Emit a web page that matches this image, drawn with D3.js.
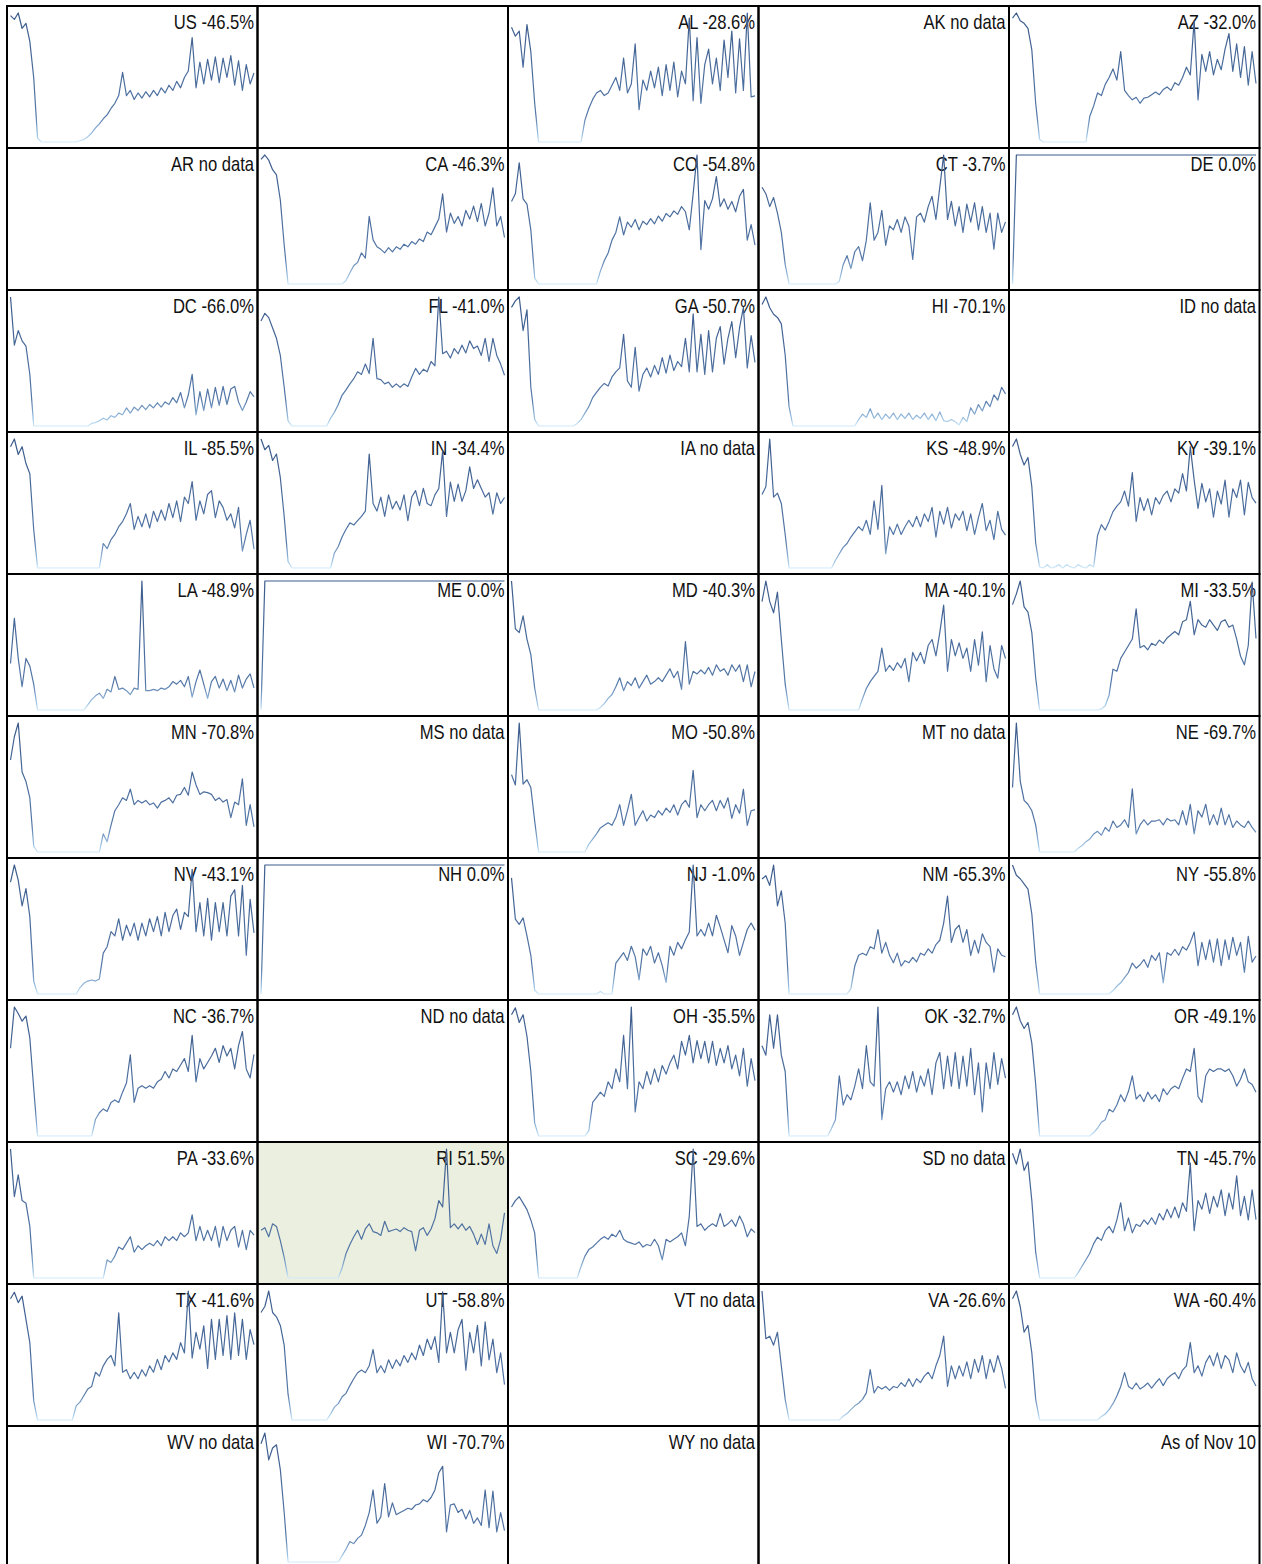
<!DOCTYPE html>
<html lang="en">
<head>
    <meta charset="UTF-8">
    <title>Seated diners vs. last year, by state</title>
    <script src="https://cdn.jsdelivr.net/npm/d3@7"></script>
    <style>
        body { margin: 0; background: #fff; }
        svg { display: block; }
        .label {
            font-family: "Liberation Sans", Arial, sans-serif;
            font-size: 20px;
            fill: #111;
        }
    </style>
</head>
<body>
    <div id="chart"></div>
    <script>
    // grid order, 5 per row; "" is an empty cell
    const cells = [
        "US", "", "AL", "AK", "AZ",
        "AR", "CA", "CO", "CT", "DE",
        "DC", "FL", "GA", "HI", "ID",
        "IL", "IN", "IA", "KS", "KY",
        "LA", "ME", "MD", "MA", "MI",
        "MN", "MS", "MO", "MT", "NE",
        "NV", "NH", "NJ", "NM", "NY",
        "NC", "ND", "OH", "OK", "OR",
        "PA", "RI", "SC", "SD", "TN",
        "TX", "UT", "VT", "VA", "WA",
        "WV", "WI", "WY", "", "As of Nov 10"
    ];
    const noData = ["AK", "AR", "ID", "IA", "MS", "MT", "ND", "SD", "VT", "WV", "WY"];

    // % change vs same day last year, one reading every ~4 days, mid Feb -> Nov 10
    const US = [-2,-5,0,-12,-8,-22,-50,-97,
        -100,-100,-100,-100,-100,-100,-100,-100,-100,-100,
        -99,-98,-96,-93,-89,-86,-82,-79,-74,-70,
        -64,-46,-64,-60,-67,-62,-66,-61,-65,-60,
        -64,-58,-62,-56,-60,-53,-58,-50,-45,-19,
        -58,-38,-55,-36,-52,-34,-54,-35,-50,-33,
        -56,-37,-60,-40,-55,-46.5];
    const AL = [78,64,72,16,82,40,-40,-100,
        -100,-100,-100,-100,-100,-100,-100,-100,-100,-100,-100,
        -66,-48,-34,-24,-20,-28,-24,-12,0,-20,
        30,-24,-10,52,-50,-4,-20,10,-16,16,
        -28,20,-20,24,-30,10,-10,92,-36,62,
        -40,20,44,-10,30,-20,58,0,72,-24,
        60,-20,100,-30,-28.6];
    const AZ = [44,50,41,38,32,7,-55,-97,
        -100,-100,-100,-100,-100,-100,-100,-100,-100,-100,-100,-100,
        -70,-58,-43,-46,-33,-25,-15,-28,5,-40,
        -46,-51,-48,-55,-49,-48,-45,-42,-45,-39,
        -36,-40,-31,-34,-25,-13,-22,41,-51,2,
        -18,5,-22,-4,-16,8,26,-18,14,-25,
        11,-34,5,-32];
    const CA = [44,49,43,32,26,-3,-55,-100,
        -100,-100,-100,-100,-100,-100,-100,-100,-100,-100,-100,-100,-100,-100,
        -96,-87,-79,-75,-64,-70,-22,-49,-57,-60,
        -64,-58,-63,-57,-60,-54,-57,-51,-54,-48,
        -51,-40,-43,-34,-25,4,-40,-18,-30,-22,
        -33,-15,-25,-10,-28,-7,-33,-18,11,-33,
        -22,-46.3];
    const CO = [-4,5,41,-1,-7,-37,-93,
        -100,-100,-100,-100,-100,-100,-100,-100,-100,-100,-100,-100,-100,-100,-100,-100,
        -85,-73,-64,-49,-40,-22,-43,-28,-34,-25,
        -37,-27,-31,-24,-30,-21,-27,-18,-22,-15,
        -19,-10,-16,-37,5,50,-60,-3,-13,-1,
        25,-10,-1,-13,-4,-16,2,10,-49,-31,
        -54.8];
    const CT = [50,40,20,34,10,-20,-70,
        -100,-100,-100,-100,-100,-100,-100,-100,-100,-100,-100,-100,-100,
        -96,-70,-56,-76,-50,-42,-64,-32,26,-32,
        -20,14,-40,-10,-16,0,-20,4,-10,-62,
        4,10,-4,20,36,0,50,100,0,28,
        -10,20,-20,24,-4,26,-16,20,-20,10,
        -46,10,-20,-3.7];
    const DE = [-100,
        0,0,0,0,0,0,0,0,0, 0,0,0,0,0,0,0,0,0, 0,0,0,0,0,0,0,0,0,
        0,0,0,0,0,0,0,0,0, 0,0,0,0,0,0,0,0,0, 0,0,0,0,0,0,0,0,0,
        0,0,0,0,0,0,0,0,0];
    const DC = [50,-6,11,-1,-7,-40,
        -100,-100,-100,-100,-100,-100,-100,-100,-100,-100,-100,-100,-100,-100,-100,
        -97,-96,-94,-91,-93,-88,-90,-85,-87,-79,
        -85,-78,-82,-76,-81,-75,-79,-73,-78,-72,
        -75,-67,-73,-61,-79,-64,-40,-87,-60,-82,
        -57,-79,-55,-76,-54,-75,-57,-54,-72,-82,
        -72,-60,-66];
    const FL = [22,31,26,14,2,-18,-55,-94,
        -100,-100,-100,-100,-100,-100,-100,-100,-100,-100,
        -91,-84,-75,-64,-58,-51,-45,-37,-40,-28,
        -39,2,-45,-46,-51,-49,-55,-51,-55,-51,
        -54,-43,-33,-40,-34,-37,-25,-30,50,-16,
        -13,-21,-10,-16,-6,-15,-1,-10,-7,-18,
        2,-25,2,-18,-28,-41];
    const GA = [-8,-3,0,-26,-10,-70,-95,
        -100,-100,-100,-100,-100,-100,-100,-100,-100,-100,
        -98,-95,-90,-85,-78,-74,-70,-67,-69,-62,
        -58,-55,-29,-65,-70,-39,-73,-60,-55,-62,
        -53,-60,-47,-59,-45,-57,-50,-54,-32,-58,
        -13,-58,-29,-60,-26,-58,-32,-23,-52,-32,
        -19,-47,-24,-8,-55,-30,-50.7];
    const HI = [13,20,10,4,1,-5,-34,-82,
        -100,-100,-100,-100,-100,-100,-100,-100,-100,-100,-100,-100,-100,-100,-100,-100,-100,
        -94,-89,-92,-84,-93,-88,-94,-89,-93,-88,
        -94,-89,-93,-88,-94,-90,-93,-88,-94,-89,
        -95,-87,-95,-96,-94,-96,-99,-92,-96,-83,
        -89,-80,-86,-77,-82,-71,-76,-64,-70.1];
    const IL = [-6,0,-12,-6,-19,-27,-70,
        -100,-100,-100,-100,-100,-100,-100,-100,-100,-100,-100,-100,-100,-100,-100,-100,-100,
        -81,-85,-78,-74,-68,-64,-58,-50,-70,-60,
        -68,-58,-69,-56,-64,-55,-63,-50,-61,-48,
        -64,-45,-50,-33,-63,-48,-58,-43,-40,-61,
        -48,-53,-63,-58,-69,-53,-87,-74,-63,-85.5];
    const IN = [20,10,14,0,6,-16,-52,-94,
        -100,-100,-100,-100,-100,-100,-100,-100,-100,-100,-100,
        -86,-80,-71,-64,-58,-60,-56,-52,-47,6,
        -40,-47,-34,-52,-32,-45,-38,-46,-32,-56,
        -34,-28,-42,-26,-40,-42,-32,-26,9,-52,
        -20,-38,-22,-38,-28,-6,-26,-18,-26,-34,
        -30,-50,-30,-40,-34.4];
    const KS = [14,26,100,10,16,0,-48,-100,
        -100,-100,-100,-100,-100,-100,-100,-100,-100,-100,-100,
        -88,-78,-68,-62,-52,-44,-36,-42,-26,-48,
        4,-40,28,-78,-36,-48,-32,-48,-36,-26,
        -36,-20,-36,-16,-28,-6,-52,-12,-32,-6,
        -38,-16,-26,-12,-42,-16,-48,-22,0,-42,
        -26,-56,-12,-40,-48.9];
    const KY = [13,20,6,-4,3,-24,-76,
        -98,-99,-96,-99,-98,-96,-99,-96,-98,-99,-96,-98,-99,-96,-98,
        -69,-59,-64,-56,-47,-42,-38,-28,-42,-11,
        -56,-34,-46,-35,-50,-34,-40,-32,-28,-38,
        -26,-30,-12,-28,13,-18,-44,-21,-38,-26,
        -52,-28,-40,-18,-52,-26,-34,-18,-50,-20,
        -34,-39.1];
    const LA = [8,113,20,-46,20,2,-40,-100,
        -100,-100,-100,-100,-100,-100,-100,-100,-100,-100,-100,-100,
        -88,-76,-67,-61,-73,-52,-58,-22,-52,-49,
        -55,-64,-49,-52,200,-55,-55,-52,-55,-49,
        -52,-46,-34,-40,-31,-46,-22,-70,-34,-7,
        -40,-73,-34,-22,-49,-28,-55,-31,-58,-19,
        -49,-28,-16,-48.9];
    const ME = [-100,
        0,0,0,0,0,0,0,0,0, 0,0,0,0,0,0,0,0,0, 0,0,0,0,0,0,0,0,0,
        0,0,0,0,0,0,0,0,0, 0,0,0,0,0,0,0,0,0, 0,0,0,0,0,0,0,0,0,
        0,0,0,0,0,0,0,0,0];
    const MD = [100,26,20,46,10,-14,-66,-100,
        -100,-100,-100,-100,-100,-100,-100,-100,-100,-100,-100,-100,-100,-100,-100,
        -96,-90,-82,-76,-64,-50,-70,-56,-62,-50,
        -66,-56,-46,-60,-56,-50,-56,-46,-36,-50,
        -40,-68,6,-60,-40,-44,-38,-44,-34,-46,
        -30,-40,-36,-46,-30,-40,-30,-56,-30,-64,
        -40.3];
    const MA = [26,50,26,13,37,-18,-70,-100,
        -100,-100,-100,-100,-100,-100,-100,-100,-100,-100,-100,-100,-100,-100,-100,-100,-100,-100,
        -87,-75,-67,-61,-55,-28,-55,-48,-54,-45,
        -51,-40,-67,-33,-43,-33,-46,-25,-18,-37,
        -10,22,-55,-18,-37,-22,-40,-28,-55,-18,
        -48,-9,-67,-25,-52,-63,-25,-40.1];
    const MI = [-2,8,20,-4,-9,-28,-70,-100,
        -100,-100,-100,-100,-100,-100,-100,-100,-100,-100,-100,-100,-100,-100,-100,
        -99,-96,-86,-62,-64,-52,-46,-40,-34,-6,
        -42,-40,-44,-38,-40,-35,-38,-33,-30,-27,
        -30,-18,-16,1,-30,-16,-21,-23,-16,-21,
        -26,-18,-16,-23,-21,-34,-50,-58,-40,19,
        -33.5];
    const MN = [7,34,50,-7,-18,-37,-93,
        -100,-100,-100,-100,-100,-100,-100,-100,-100,-100,-100,-100,-100,-100,-100,-100,-100,
        -79,-88,-69,-52,-45,-37,-40,-27,-45,-40,
        -43,-40,-45,-43,-49,-42,-40,-37,-43,-34,
        -33,-25,-34,-7,-22,-33,-30,-31,-33,-40,
        -37,-42,-39,-60,-42,-45,-15,-69,-45,-70.8];
    const MO = [-10,-22,50,-21,-16,-25,-64,-100,
        -100,-100,-100,-100,-100,-100,-100,-100,-100,-100,-100,-100,
        -91,-85,-79,-72,-69,-66,-69,-60,-45,-69,
        -52,-33,-69,-60,-52,-64,-57,-60,-52,-57,
        -49,-54,-45,-57,-45,-40,-48,-5,-60,-45,
        -52,-45,-40,-52,-40,-49,-37,-61,-45,-55,
        -27,-69,-52,-50.8];
    const NE = [0,100,10,-20,-26,-36,-58,-100,
        -100,-100,-100,-100,-100,-100,-100,-100,-100,
        -94,-90,-84,-80,-72,-68,-74,-62,-68,-52,
        -62,-58,-50,-62,-2,-72,-58,-50,-58,-52,
        -52,-50,-58,-48,-52,-50,-58,-36,-58,-26,
        -72,-36,-46,-26,-58,-42,-58,-32,-58,-42,
        -62,-52,-58,-62,-52,-62,-69.7];
    const NV = [4,20,6,-18,-2,-28,-88,
        -100,-100,-100,-100,-100,-100,-100,-100,-100,-100,-100,
        -94,-90,-88,-87,-88,-86,-62,-56,-42,-46,
        -30,-50,-36,-46,-34,-50,-34,-46,-30,-42,
        -28,-46,-24,-42,-27,-21,-40,-24,-28,16,
        -42,-15,-46,-11,-50,-15,-42,-15,-46,-9,
        -3,-46,1,-64,-12,-43.1];
    const NH = [-100,
        0,0,0,0,0,0,0,0,0, 0,0,0,0,0,0,0,0,0, 0,0,0,0,0,0,0,0,0,
        0,0,0,0,0,0,0,0,0, 0,0,0,0,0,0,0,0,0, 0,0,0,0,0,0,0,0,0,
        0,0,0,0,0,0,0,0,0];
    const NJ = [80,16,8,18,-10,-40,-94,
        -100,-100,-100,-100,-100,-100,-100,-100,-100,-100,-100,-100,-100,-100,-100,-100,
        -96,-100,-100,-100,-52,-44,-36,-48,-26,-42,
        -78,-30,-40,-26,-52,-36,-56,-82,-26,-40,
        -20,-30,-16,-4,100,-10,0,-10,10,-10,
        22,4,-16,-36,6,-10,-40,-20,0,10,
        -1];
    const NM = [7,10,1,20,-18,-4,-34,-100,
        -100,-100,-100,-100,-100,-100,-100,-100,-100,-100,-100,-100,-100,-100,-100,
        -95,-74,-64,-62,-64,-56,-58,-40,-62,-52,
        -64,-71,-62,-74,-69,-71,-66,-70,-62,-64,
        -58,-62,-54,-50,-34,-9,-52,-40,-36,-52,
        -40,-64,-50,-62,-44,-52,-56,-80,-58,-64,
        -65.3];
    const NY = [50,38,34,28,22,-7,-63,-100,
        -100,-100,-100,-100,-100,-100,-100,-100,-100,-100,-100,-100,-100,-100,-100,-100,-100,-100,
        -96,-91,-87,-81,-75,-64,-70,-66,-60,-69,
        -55,-61,-52,-87,-52,-55,-48,-55,-45,-49,
        -40,-28,-67,-40,-60,-37,-63,-36,-67,-37,
        -60,-34,-55,-40,-75,-33,-63,-55.8];
    const NC = [-32,0,-5,-11,-7,-24,-63,-100,
        -100,-100,-100,-100,-100,-100,-100,-100,-100,-100,-100,-100,-100,-100,
        -87,-82,-79,-81,-74,-72,-74,-66,-59,-37,
        -74,-63,-61,-63,-61,-63,-58,-56,-50,-55,
        -48,-50,-45,-40,-50,-22,-58,-40,-48,-43,
        -38,-32,-43,-30,-38,-32,-48,-30,-19,-48,
        -55,-36.7];
    const OH = [41,49,32,41,16,-25,-85,
        -100,-100,-100,-100,-100,-100,-100,-100,-100,-100,-100,-100,-100,
        -94,-61,-55,-49,-54,-37,-45,-22,-37,17,
        -45,50,-72,-37,-45,-25,-40,-22,-37,-18,
        -28,-15,-6,-22,10,-6,17,-15,11,-10,
        10,-15,10,-18,2,-15,5,-22,-6,-30,
        2,-42,-10,-35.5];
    const OK = [5,-6,41,2,41,-6,-25,-100,
        -100,-100,-100,-100,-100,-100,-100,-100,-100,-100,
        -91,-81,-30,-64,-52,-58,-42,-22,-45,5,
        -37,-42,50,-81,-45,-37,-49,-37,-52,-30,
        -45,-25,-49,-30,-42,-22,-52,-15,-3,-45,
        -7,-42,-3,-45,-7,-42,2,-52,-15,-72,
        -15,-45,-3,-40,-10,-32.7];
    const OR = [41,50,34,25,32,8,-40,-100,
        -100,-100,-100,-100,-100,-100,-100,-100,-100,-100,-100,-100,-100,
        -96,-91,-84,-81,-69,-72,-64,-52,-60,-48,
        -30,-57,-52,-60,-49,-57,-52,-60,-45,-52,
        -45,-42,-45,-33,-22,-25,2,-54,-61,-30,
        -22,-25,-22,-22,-25,-22,-30,-42,-34,-22,
        -37,-40,-49.1];
    const PA = [100,26,60,20,16,-20,
        -100,-100,-100,-100,-100,-100,-100,-100,-100,-100,-100,-100,-100,-100,-100,-100,-100,-100,-100,
        -72,-76,-66,-52,-56,-46,-36,-60,-50,-56,
        -50,-46,-50,-42,-50,-36,-42,-36,-42,-30,
        -36,-30,-2,-42,-20,-42,-26,-42,-20,-52,
        -20,-42,-26,-20,-52,-26,-56,-26,-33.6];
    const RI = [11,17,-4,26,20,-13,-52,-100,
        -100,-100,-100,-100,-100,-100,-100,-100,-100,-100,-100,-100,-100,
        -76,-43,-22,-4,11,-10,14,26,8,5,
        -1,32,8,11,14,8,17,11,8,-37,
        11,17,-1,14,38,80,65,200,17,26,
        14,26,11,20,2,-22,2,-22,26,-25,
        -43,-10,51.5];
    const SC = [10,20,26,16,6,-10,-30,-100,
        -100,-100,-100,-100,-100,-100,-100,-100,-100,-100,
        -82,-66,-56,-52,-46,-40,-36,-40,
        -32,-36,-26,-40,-44,-46,-48,-44,-52,-48,
        -50,-40,-50,-72,-40,-44,-40,-36,-30,-50,
        -4,100,-20,-16,-26,-20,-16,-20,0,-20,
        -16,-10,-20,-4,-16,-36,-24,-29.6];
    const TN = [16,6,20,0,8,-28,-76,-100,
        -100,-100,-100,-100,-100,-100,-100,-100,-100,
        -95,-89,-83,-77,-68,-62,-65,-56,-52,-58,
        -46,-30,-56,-44,-58,-50,-52,-46,-50,-44,
        -50,-40,-46,-36,-44,-34,-44,-30,-38,7,
        -56,-28,-36,-21,-40,-24,-34,-18,-42,-21,
        -36,-5,-42,-24,-46,-18,-45.7];
    const TX = [-6,-1,-9,-4,-22,-40,-85,
        -100,-100,-100,-100,-100,-100,-100,-100,-100,-100,
        -89,-86,-81,-76,-74,-63,-66,-58,-53,-50,
        -58,-17,-63,-61,-68,-63,-68,-61,-66,-58,
        -63,-53,-61,-50,-55,-48,-53,-40,-48,0,
        -52,-32,-45,-27,-60,-22,-53,-22,-50,-19,
        -53,-17,-50,-22,-53,-30,-41.6];
    const UT = [25,32,50,25,20,10,-13,-70,
        -100,-100,-100,-100,-100,-100,-100,-100,-100,-100,
        -93,-85,-81,-73,-69,-60,-52,-45,-42,-45,
        -37,-18,-45,-37,-45,-30,-40,-30,-37,-25,
        -33,-22,-30,-13,-25,-6,-18,-3,-33,49,
        -22,2,-22,5,17,-42,2,-22,10,-37,
        14,-30,-6,-45,-22,-58.8];
    const VA = [200,89,95,74,104,26,-52,-100,
        -100,-100,-100,-100,-100,-100,-100,-100,-100,-100,-100,-100,-100,
        -91,-85,-76,-67,-61,-52,-37,17,-37,-22,
        -28,-22,-31,-22,-25,-13,-22,-4,-22,-4,
        -13,2,11,-4,26,50,95,-22,26,-4,
        26,2,35,-4,41,11,50,-4,41,11,
        50,20,-26.6];
    const WA = [41,50,32,2,10,-22,-76,-100,
        -100,-100,-100,-100,-100,-100,-100,-100,-100,-100,-100,-100,-100,-100,-100,
        -96,-93,-88,-81,-72,-61,-45,-61,-64,-57,
        -64,-61,-57,-63,-57,-52,-60,-52,-48,-45,
        -52,-42,-37,-10,-45,-37,-49,-33,-25,-37,
        -22,-40,-25,-30,-45,-22,-37,-45,-33,-52,
        -60.4];
    const WI = [10,20,-5,6,9,-14,-54,-100,
        -100,-100,-100,-100,-100,-100,-100,-100,-100,-100,-100,-100,-100,
        -94,-88,-81,-83,-78,-75,-66,-54,-33,-64,
        -58,-27,-58,-45,-56,-54,-52,-50,-51,-47,
        -46,-42,-44,-40,-33,-17,-11,-72,-47,-46,
        -54,-51,-60,-52,-64,-59,-66,-33,-68,-34,
        -72,-54,-70.7];

    const series = {US, AL, AZ, CA, CO, CT, DE, DC, FL, GA, HI, IL, IN, KS, KY, LA, ME, MD, MA, MI,
        MN, MO, NE, NV, NH, NJ, NM, NY, NC, OH, OK, OR, PA, RI, SC, TN, TX, UT, VA, WA, WI};

    const width = 1262, height = 1564;
    const cols = 5, colW = 250.5, rowH = 142, x0 = 7, y0 = 6;

    const svg = d3.select("#chart").append("svg")
        .attr("width", width)
        .attr("height", height);

    // line fades to pale blue towards the bottom of each panel
    const grad = svg.append("defs").append("linearGradient")
        .attr("id", "fade")
        .attr("x1", 0).attr("y1", 0).attr("x2", 0).attr("y2", 1);
    grad.selectAll("stop")
        .data([[0, "#3b5b8b"], [0.8, "#5478a8"], [0.95, "#9fc4e4"], [1, "#d2ebfa"]])
        .join("stop")
        .attr("offset", d => d[0])
        .attr("stop-color", d => d[1]);

    cells.forEach((code, i) => {
        const left = x0 + (i % cols) * colW;
        const top = y0 + Math.floor(i / cols) * rowH;
        const values = series[code];
        const g = svg.append("g");

        if (values && values[values.length - 1] > 0) {
            g.append("rect")
                .attr("x", left).attr("y", top)
                .attr("width", colW).attr("height", rowH)
                .attr("fill", "#ebefdf");
        }

        let label = code;
        if (values) label = code + " " + values[values.length - 1].toFixed(1) + "%";
        else if (noData.includes(code)) label = code + " no data";

        // narrow look: squeeze the sans horizontally
        g.append("text")
            .attr("class", "label")
            .attr("transform", `translate(${left + colW - 3.5},${top + 23}) scale(0.83,1)`)
            .attr("text-anchor", "end")
            .text(label);

        if (!values) return;

        const x = d3.scaleLinear()
            .domain([0, values.length - 1])
            .range([left + 3.5, left + colW - 3.5]);
        const y = d3.scaleLinear()
            .domain(d3.extent(values))
            .range([top + rowH - 6, top + 7]);

        g.append("path")
            .datum(values)
            .attr("fill", "none")
            .attr("stroke", "url(#fade)")
            .attr("stroke-width", 1.2)
            .attr("stroke-linejoin", "round")
            .attr("d", d3.line().x((d, j) => x(j)).y(d => y(d)));
    });

    // cell borders
    svg.append("g")
        .selectAll("rect")
        .data(cells)
        .join("rect")
        .attr("x", (d, i) => x0 + (i % cols) * colW)
        .attr("y", (d, i) => y0 + Math.floor(i / cols) * rowH)
        .attr("width", colW)
        .attr("height", rowH)
        .attr("fill", "none")
        .attr("stroke", "#000")
        .attr("stroke-width", 2);
    </script>
</body>
</html>
